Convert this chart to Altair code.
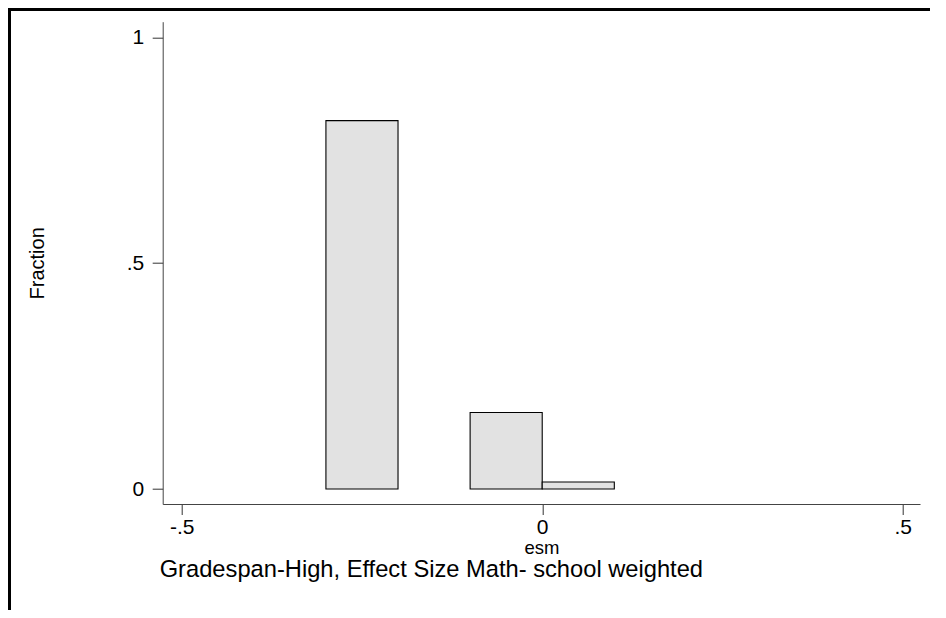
import altair as alt
import pandas as pd

# Histogram bins (esm) and fraction of schools in each bin
bin_start = [-0.3, -0.1, 0.0]
bin_end = [-0.2, 0.0, 0.1]
fraction = [0.8154, 0.1692, 0.0154]

x_ticks = [-0.5, 0, 0.5]
x_tick_labels = ["-.5", "0", ".5"]
y_ticks = [0, 0.5, 1]
y_tick_labels = ["0", ".5", "1"]

title_text = "Gradespan-High, Effect Size Math- school weighted"

df = pd.DataFrame({"start": bin_start, "end": bin_end, "fraction": fraction})

FONT = "Liberation Sans"

x_label_expr = "datum.value == 0 ? '0' : (datum.value < 0 ? '-.5' : '.5')"
y_label_expr = "datum.value == 0 ? '0' : (datum.value == 1 ? '1' : '.5')"

bars = alt.Chart(df).mark_bar(
    fill="#e2e2e2", stroke="black", strokeWidth=1.1
).encode(
    x=alt.X(
        "start:Q",
        scale=alt.Scale(domain=[-0.5264, 0.524], nice=False, zero=False),
        axis=alt.Axis(
            values=x_ticks,
            labelExpr=x_label_expr,
            title="esm",
            titleFontSize=18.5,
            titleFont=FONT,
            titleFontWeight="normal",
            titleColor="black",
            titleBaseline="alphabetic",
            titleY=49,
            labelFontSize=21,
            labelFont=FONT,
            labelColor="black",
            labelPadding=1.5,
            tickSize=10.5,
            tickColor="#333333",
            domainColor="#444444",
            grid=False,
        ),
    ),
    x2="end:Q",
    y=alt.Y(
        "fraction:Q",
        scale=alt.Scale(domain=[-0.0332, 1.0345], nice=False, zero=False),
        axis=alt.Axis(
            values=y_ticks,
            labelExpr=y_label_expr,
            title="Fraction",
            titleFontSize=20,
            titleFont=FONT,
            titleFontWeight="normal",
            titleColor="black",
            titleAngle=270,
            titleBaseline="alphabetic",
            titleX=-119.7,
            labelFontSize=21,
            labelFont=FONT,
            labelColor="black",
            labelPadding=8.5,
            tickSize=10.5,
            tickColor="#333333",
            domainColor="#444444",
            grid=False,
        ),
    ),
    y2=alt.Y2(datum=0),
)

frame_data = alt.Data(values=[{"frame": 1}])
border_top = alt.Chart(frame_data).mark_rule(
    stroke="black", strokeWidth=3, strokeCap="square"
).encode(
    x=alt.value(-153.2),
    x2=alt.value(767.3),
    y=alt.value(-12.2),
)
border_left = alt.Chart(frame_data).mark_rule(
    stroke="black", strokeWidth=3, strokeCap="square"
).encode(
    x=alt.value(-153.2),
    y=alt.value(-12.2),
    y2=alt.value(588.3),
)

chart = alt.layer(bars, border_top, border_left).properties(
    width=757.3,
    height=482.3,
    padding={"left": 154.7, "top": 13.7, "right": 10, "bottom": 106},
    autosize=alt.AutoSizeParams(type="none"),
    title=alt.TitleParams(
        text=title_text,
        orient="bottom",
        anchor="start",
        frame="group",
        fontSize=23.7,
        font=FONT,
        fontWeight="normal",
        color="black",
        offset=-54,
        dx=-3,
    ),
    background="white",
).configure_view(stroke=None)

chart.save("out.html", embed_options={"renderer": "svg", "actions": False})
